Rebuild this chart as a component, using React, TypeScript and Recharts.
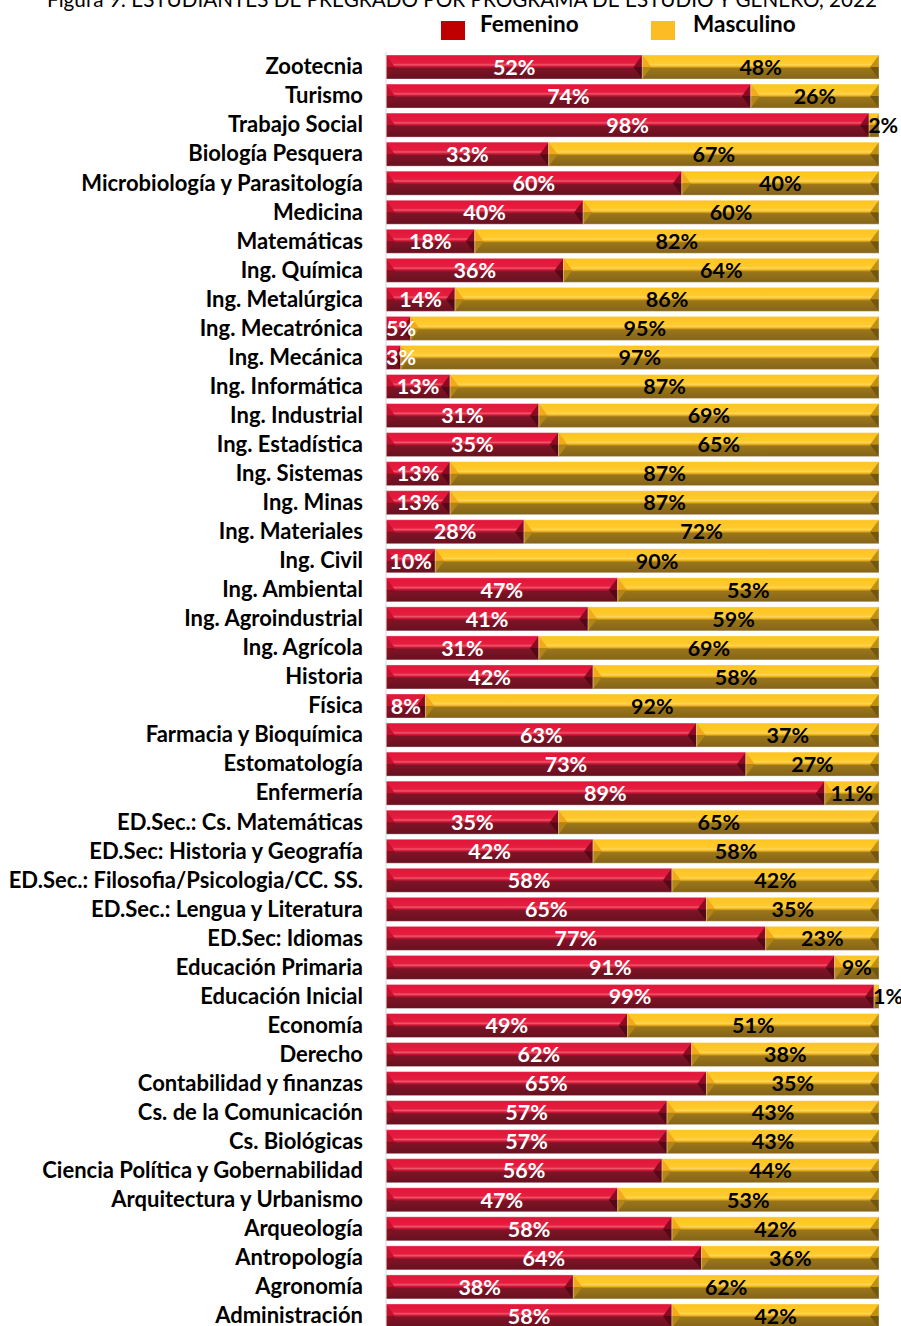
import React from 'react';
import { Bar, BarChart, LabelList, Legend, XAxis, YAxis } from 'recharts';

const programas = [
  'Zootecnia',
  'Turismo',
  'Trabajo Social',
  'Biología Pesquera',
  'Microbiología y Parasitología',
  'Medicina',
  'Matemáticas',
  'Ing. Química',
  'Ing. Metalúrgica',
  'Ing. Mecatrónica',
  'Ing. Mecánica',
  'Ing. Informática',
  'Ing. Industrial',
  'Ing. Estadística',
  'Ing. Sistemas',
  'Ing. Minas',
  'Ing. Materiales',
  'Ing. Civil',
  'Ing. Ambiental',
  'Ing. Agroindustrial',
  'Ing. Agrícola',
  'Historia',
  'Física',
  'Farmacia y Bioquímica',
  'Estomatología',
  'Enfermería',
  'ED.Sec.: Cs. Matemáticas',
  'ED.Sec: Historia y Geografía',
  'ED.Sec.: Filosofia/Psicologia/CC. SS.',
  'ED.Sec.: Lengua y Literatura',
  'ED.Sec: Idiomas',
  'Educación Primaria',
  'Educación Inicial',
  'Economía',
  'Derecho ',
  'Contabilidad y finanzas',
  'Cs. de la Comunicación',
  'Cs. Biológicas',
  'Ciencia Política y Gobernabilidad',
  'Arquitectura y Urbanismo',
  'Arqueología',
  'Antropología',
  'Agronomía',
  'Administración',
];

const femenino = [
  52, 74, 98, 33, 60, 40, 18, 36, 14, 5, 3, 13, 31, 35, 13, 13, 28, 10, 47, 41, 31, 42, 8, 63, 73, 89,
  35, 42, 58, 65, 77, 91, 99, 49, 62, 65, 57, 57, 56, 47, 58, 64, 38, 58,
];

const masculino = [
  48, 26, 2, 67, 40, 60, 82, 64, 86, 95, 97, 87, 69, 65, 87, 87, 72, 90, 53, 59, 69, 58, 92, 37, 27, 11,
  65, 58, 42, 35, 23, 9, 1, 51, 38, 35, 43, 43, 44, 53, 42, 36, 62, 42,
];

const titulo = 'Figura 9: ESTUDIANTES DE PREGRADO POR PROGRAMA DE ESTUDIO Y GÉNERO, 2022';

const data = programas.map((programa, i) => ({
  programa,
  femenino: femenino[i],
  masculino: masculino[i],
}));

const FONT = 'Lato, "Noto Sans", sans-serif';
const PLOT_LEFT = 386;

const colores = {
  f: { grad: 'gradF', leftTop: '#c4112d', leftBot: '#85101f', rightTop: '#8c0b22', rightBot: '#560817' },
  m: { grad: 'gradM', leftTop: '#f2a91a', leftBot: '#b38516', rightTop: '#c2900f', rightBot: '#74570f' },
};

const BevelBar = (props: any) => {
  const { x, y, width, height, kind } = props;
  if (!width || width <= 0) return null;
  const c = colores[kind as 'f' | 'm'];
  const b = Math.min(9, width / 2);
  const mid = y + height / 2;
  return (
    <g>
      <rect x={x} y={y} width={width} height={height} fill={`url(#${c.grad})`} />
      <polygon points={`${x},${y} ${x + b},${mid} ${x},${mid}`} fill={c.leftTop} />
      <polygon points={`${x},${mid} ${x + b},${mid} ${x},${y + height}`} fill={c.leftBot} />
      <polygon points={`${x + width},${y} ${x + width - b},${mid} ${x + width},${mid}`} fill={c.rightTop} />
      <polygon points={`${x + width},${mid} ${x + width - b},${mid} ${x + width},${y + height}`} fill={c.rightBot} />
      <rect x={x} y={y} width={width} height={height} fill='none' stroke='rgba(255,255,255,0.35)' strokeWidth={1} />
    </g>
  );
};

const ValueLabel = (props: any) => {
  const { x, y, width, height, value, color } = props;
  const txt = `${value}%`;
  const estW = String(value).length * 12 + 17;
  let tx = x + width / 2;
  let anchor: 'middle' | 'start' = 'middle';
  if (width < 12) {
    // tiny segment: Excel pushes the label out past the end
    tx = x - 1;
    anchor = 'start';
  } else if (tx - estW / 2 < PLOT_LEFT) {
    tx = PLOT_LEFT;
    anchor = 'start';
  }
  return (
    <text
      x={tx}
      y={y + height / 2}
      dy='0.36em'
      textAnchor={anchor}
      fill={color}
      fontFamily={FONT}
      fontWeight={700}
      fontSize={21.5}
    >
      {txt}
    </text>
  );
};

const Cabecera = () => (
  <svg width={901} height={44} style={{ display: 'block' }}>
    <text
      x={462}
      y={7}
      textAnchor='middle'
      textLength={830}
      lengthAdjust='spacingAndGlyphs'
      fontFamily={FONT}
      fontSize={21}
      fill='#000'
    >
      {titulo}
    </text>
    <rect x={441} y={21} width={24} height={19} fill='#c00000' />
    <text x={480} y={32} fontFamily={FONT} fontWeight={700} fontSize={22.5} fill='#000'>
      Femenino
    </text>
    <rect x={651} y={21} width={24} height={19} fill='#fbbc24' />
    <text x={693} y={32} fontFamily={FONT} fontWeight={700} fontSize={22.5} fill='#000'>
      Masculino
    </text>
  </svg>
);

export default function App() {
  return (
    <div
      style={{
        position: 'absolute',
        top: 0,
        left: 0,
        width: 901,
        height: 1326,
        overflow: 'hidden',
        background: '#fff',
      }}
    >
      <BarChart
        width={901}
        height={1330}
        data={data}
        layout='vertical'
        barSize={24}
        margin={{ top: 8, right: 22, bottom: 0, left: 0 }}
      >
        <defs>
          <linearGradient id='gradF' x1='0' y1='0' x2='0' y2='1'>
            <stop offset='0' stopColor='#e0163a' />
            <stop offset='0.34' stopColor='#e51d3e' />
            <stop offset='0.41' stopColor='#f0566c' />
            <stop offset='0.48' stopColor='#cf1636' />
            <stop offset='0.56' stopColor='#7d1427' />
            <stop offset='1' stopColor='#68101f' />
          </linearGradient>
          <linearGradient id='gradM' x1='0' y1='0' x2='0' y2='1'>
            <stop offset='0' stopColor='#fdc421' />
            <stop offset='0.34' stopColor='#ffca2c' />
            <stop offset='0.41' stopColor='#ffd65a' />
            <stop offset='0.48' stopColor='#f0b620' />
            <stop offset='0.56' stopColor='#9a751a' />
            <stop offset='1' stopColor='#846419' />
          </linearGradient>
        </defs>
        <Legend
          verticalAlign='top'
          content={() => <Cabecera />}
          wrapperStyle={{ top: 0, left: 0, width: 901, height: 44 }}
        />
        <XAxis type='number' domain={[0, 100]} hide />
        <YAxis
          type='category'
          dataKey='programa'
          width={PLOT_LEFT}
          axisLine={{ stroke: '#d9d9d9' }}
          tickLine={false}
          tickSize={0}
          tickMargin={23}
          interval={0}
          tick={{ fill: '#000', fontFamily: FONT, fontWeight: 700, fontSize: 22 }}
        />
        <Bar
          dataKey='femenino'
          stackId='a'
          isAnimationActive={false}
          shape={(p: any) => <BevelBar {...p} kind='f' />}
        >
          <LabelList dataKey='femenino' content={(p: any) => <ValueLabel {...p} color='#fff' />} />
        </Bar>
        <Bar
          dataKey='masculino'
          stackId='a'
          isAnimationActive={false}
          shape={(p: any) => <BevelBar {...p} kind='m' />}
        >
          <LabelList dataKey='masculino' content={(p: any) => <ValueLabel {...p} color='#000' />} />
        </Bar>
      </BarChart>
    </div>
  );
}
